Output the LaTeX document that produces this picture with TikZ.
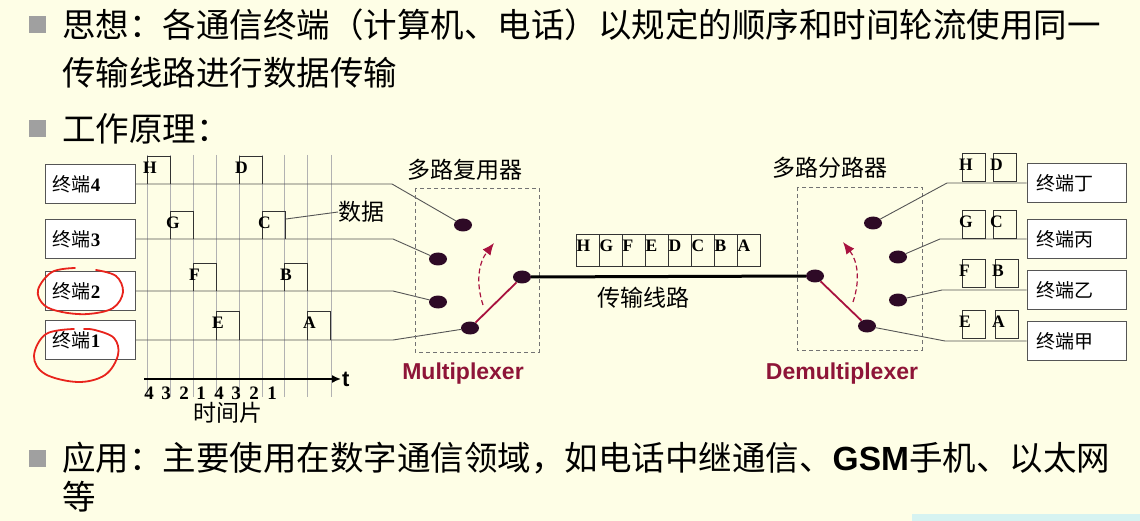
\documentclass[tikz,border=0pt]{standalone}
\usepackage{fontspec}
\setmainfont{Liberation Serif}
\newfontfamily\cjk{Noto Sans CJK SC}
\newfontfamily\arialf{Liberation Sans}
\usetikzlibrary{arrows.meta,shapes.geometric}
\definecolor{bgc}{HTML}{FEFEE6}
\definecolor{dotc}{HTML}{2E0A26}
\definecolor{swc}{HTML}{A8123F}
\definecolor{mxc}{HTML}{8E1538}
\definecolor{handred}{HTML}{E8231C}
\definecolor{bulc}{HTML}{A0A0A0}
\definecolor{linec}{HTML}{555555}
\definecolor{cyanstrip}{HTML}{D6F3F1}
\tikzset{
 term/.style={draw=linec, fill=white, line width=0.9pt, minimum width=90pt, minimum height=39pt, inner sep=0pt},
 rterm/.style={term, minimum width=99pt},
 tlab/.style={anchor=west, inner sep=0pt, font=\fontsize{19}{19}\selectfont},
 sig/.style={draw=linec, line width=0.9pt},
 pulse/.style={draw=black!80, line width=0.9pt},
 gridl/.style={draw=black!30, line width=0.5pt},
 plab/.style={anchor=west, inner sep=0pt, font=\fontsize{17.5}{17.5}\selectfont\bfseries},
 sdot/.style={ellipse, fill=dotc, minimum width=18pt, minimum height=13pt, inner sep=0pt},
 switchl/.style={draw=swc, line width=1.8pt},
 rot/.style={draw=swc, dash pattern=on 5pt off 3pt, line width=1.2pt, -{Latex[length=12pt,width=10pt]}},
 dbox/.style={draw=black!55, dash pattern=on 4pt off 3pt, line width=0.9pt},
 big/.style={anchor=west, inner sep=0pt, font=\fontsize{33.5}{40}\selectfont\cjk},
 mid/.style={inner sep=0pt, font=\fontsize{23}{23}\selectfont\cjk},
 mxl/.style={inner sep=0pt, text=mxc, font=\fontsize{23}{23}\selectfont\arialf\bfseries},
 bulletsq/.style={fill=bulc, minimum size=17pt, inner sep=0pt},
 hand/.style={draw=handred, line width=1.8pt, line cap=round},
 num/.style={inner sep=0pt, font=\fontsize{19}{19}\selectfont\bfseries},
 cellbox/.style={draw=black!80, line width=0.9pt},
}
\begin{document}
\begin{tikzpicture}[x=1pt,y=-1pt]
\fill[bgc] (0,0) rectangle (1140,521);
\useasboundingbox (0,0) rectangle (1140,521);
\fill[cyanstrip] (912,514) rectangle (1140,521);

% header / footer text
\node[bulletsq] (b1) at (37,25) {};
\node[big] (l1) at (62,25) {思想：各通信终端（计算机、电话）以规定的顺序和时间轮流使用同一};
\node[big] (l2) at (62,73) {传输线路进行数据传输};
\node[bulletsq] (b2) at (37,129) {};
\node[big] (l3) at (62,129) {工作原理：};
\node[bulletsq] (b3) at (37,458) {};
\node[big] (l4) at (62,458) {应用：主要使用在数字通信领域，如电话中继通信、{\arialf\bfseries GSM}手机、以太网};
\node[big] (l5) at (62,497) {等};

% time grid
\foreach \x in {147,170,193,216,239,262,284,307,331} \draw[gridl] (\x,155) -- (\x,397);

% left terminals
\node[term] (t4) at (90,184) {};
\node[tlab] (t4l) at ([xshift=8pt]t4.west) {{\cjk 终端}\textbf{4}};
\node[term] (t3) at (90,239) {};
\node[tlab] (t3l) at ([xshift=8pt]t3.west) {{\cjk 终端}\textbf{3}};
\node[term] (t2) at (90,291) {};
\node[tlab] (t2l) at ([xshift=8pt]t2.west) {{\cjk 终端}\textbf{2}};
\node[term] (t1) at (90,340) {};
\node[tlab] (t1l) at ([xshift=8pt]t1.west) {{\cjk 终端}\textbf{1}};

% multiplexer dots
\node[sdot] (m4) at (463,225) {};
\node[sdot] (m3) at (438,259) {};
\node[sdot] (m2) at (438,302) {};
\node[sdot] (m1) at (470,328) {};
\node[sdot] (mo) at (522,277) {};

% signal lines
\coordinate (c4) at (392,184);
\coordinate (c3) at (393,239);
\coordinate (c2) at (393,291);
\coordinate (c1) at (393,340);
\draw[sig] (t4.east) -- (c4) -- (m4);
\draw[sig] (t3.east) -- (c3) -- (m3);
\draw[sig] (t2.east) -- (c2) -- (m2);
\draw[sig] (t1.east) -- (c1) -- (m1);

% pulses
\foreach \px/\pb/\pt/\pl in {147/184/156/H,239/184/156/D,170/239/211/G,262/239/211/C,193/291/263/F,284/291/263/B,216/340/311/E,307/340/311/A} {
  \draw[pulse] (\px,\pb) |- ({\px+23},\pt) -- ({\px+23},\pb);
  \node[plab] (p\pl) at ({\px-4},{\pt+12}) {\pl};
}

% data label
\node[mid, anchor=west] (data) at (338,212) {数据};
\coordinate (cpt) at (286,219);
\draw[sig] (cpt) -- (data.west);

% time axis
\coordinate (ax0) at (144,379);
\coordinate (ax1) at (341,379);
\draw[line width=1.6pt, -{Latex[length=9pt,width=8pt]}] (ax0) -- (ax1);
\node[inner sep=0pt, anchor=west, font=\fontsize{22}{22}\selectfont\arialf\bfseries] (tlab) at (342,379) {t};
\foreach \x/\n [count=\i] in {149/4,166/3,184/2,201/1,219/4,236/3,254/2,272/1}
  \node[num] (n\i) at (\x,393) {\n};
\node[mid] (slice) at (228,413) {时间片};

% multiplexer
\draw[dbox] (415,188) rectangle (539,352);
\node[mid] (muxt) at (465,170) {多路复用器};
\draw[switchl] (m1) -- (mo);
\draw[rot] (483,305) to[bend left=28] (494,243);
\node[mxl] (muxl) at (463,374) {Multiplexer};

% demultiplexer dots
\node[sdot] (di) at (815,276) {};
\node[sdot] (d4) at (873,223) {};
\node[sdot] (d3) at (898,257) {};
\node[sdot] (d2) at (898,300) {};
\node[sdot] (d1) at (867,326) {};

% transmission line
\draw[line width=3pt] (mo) -- (di);
\node[mid] (trans) at (643,298) {传输线路};
\foreach \L [count=\i] in {H,G,F,E,D,C,B,A} {
  \pgfmathsetmacro\cx{576+23*(\i-1)}
  \draw[cellbox] (\cx,234) rectangle ({\cx+23},266);
  \node[plab] (f\i) at ({\cx+0.5},246) {\L};
}

% demultiplexer
\draw[dbox] (797,187) rectangle (922,350);
\node[mid] (demt) at (830,168) {多路分路器};
\draw[switchl] (di) -- (d1);
\draw[rot] (853,302) to[bend right=28] (843,242);
\node[mxl] (demuxl) at (842,374) {Demultiplexer};

% right terminals
\node[rterm] (s4) at (1076.5,183) {};
\node[tlab] (s4l) at ([xshift=10pt]s4.west) {\cjk 终端丁};
\node[rterm] (s3) at (1076.5,239) {};
\node[tlab] (s3l) at ([xshift=10pt]s3.west) {\cjk 终端丙};
\node[rterm] (s2) at (1076.5,290) {};
\node[tlab] (s2l) at ([xshift=10pt]s2.west) {\cjk 终端乙};
\node[rterm] (s1) at (1076.5,341) {};
\node[tlab] (s1l) at ([xshift=10pt]s1.west) {\cjk 终端甲};

\coordinate (e4) at (947,183);
\coordinate (e3) at (940,239);
\coordinate (e2) at (942,290);
\coordinate (e1) at (945,341);
\draw[sig] (d4) -- (e4) -- (s4.west);
\draw[sig] (d3) -- (e3) -- (s3.west);
\draw[sig] (d2) -- (e2) -- (s2.west);
\draw[sig] (d1) -- (e1) -- (s1.west);

\foreach \bx/\by/\bl in {962/153/H,993/153/D,962/210/G,993/210/C,962/259/F,995/259/B,962/310/E,995/310/A} {
  \draw[cellbox] (\bx,\by) rectangle ({\bx+23},{\by+28});
  \node[plab] (r\bl) at ({\bx-3},{\by+12}) {\bl};
}

% hand-drawn red marks
\draw[hand] plot[smooth, tension=0.6] coordinates {(75,268) (52,272) (38,290) (44,305) (62,312) (88,314) (113,308) (123,292) (116,276) (96,270)};
\draw[hand] plot[smooth, tension=0.6] coordinates {(74,329) (46,334) (34,356) (45,374) (78,382) (105,375) (118,355) (114,338) (95,330) (84,329)};
\end{tikzpicture}
\end{document}
